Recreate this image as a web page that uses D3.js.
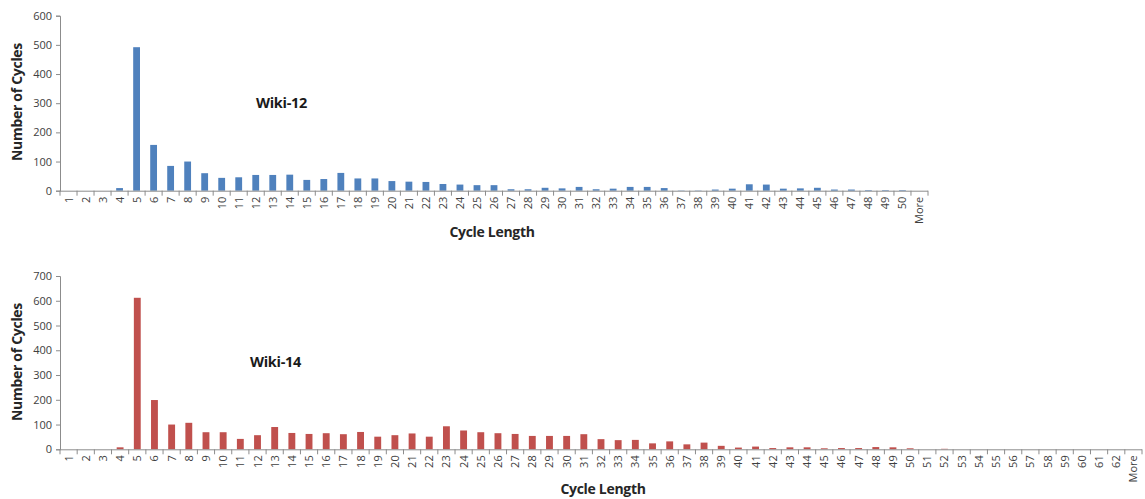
<!DOCTYPE html>
<html>
<head>
<meta charset="utf-8">
<script src="https://cdn.jsdelivr.net/npm/d3@7"></script>
<style>
  body { margin: 0; background: #fff; }
  svg text { font-family: "Open Sans", "DejaVu Sans", sans-serif; }
</style>
</head>
<body>
<div id="chart"></div>
<script>
// cycle length categories
const wiki12Lengths = d3.range(1, 51).map(String).concat(["More"]);
const wiki14Lengths = d3.range(1, 63).map(String).concat(["More"]);

// number of cycles per length
const wiki12Counts = [0, 0, 0, 9, 492, 157, 85, 100, 60, 44, 46, 54, 54, 55, 37, 40,
  61, 42, 42, 33, 31, 30, 23, 21, 19, 19, 5, 5, 10, 8, 13, 5, 7, 13, 13, 9, 1, 1,
  4, 7, 22, 21, 7, 8, 10, 4, 4, 2, 2, 2, 0];
const wiki14Counts = [0, 0, 0, 8, 612, 199, 100, 107, 69, 69, 42, 57, 90, 66, 62, 65,
  61, 70, 51, 57, 64, 51, 93, 76, 69, 65, 62, 54, 54, 54, 61, 41, 37, 38, 24, 32,
  20, 27, 14, 7, 11, 5, 8, 8, 4, 5, 5, 9, 8, 4, 0, 2, 0, 0, 0, 0, 0, 0, 0, 0, 0, 0, 0];

const wiki12Ticks = [0, 100, 200, 300, 400, 500, 600];
const wiki14Ticks = [0, 100, 200, 300, 400, 500, 600, 700];

const svg = d3.select("#chart").append("svg")
  .attr("width", 1145)
  .attr("height", 499);

function drawHistogram(opts) {
  const g = svg.append("g");

  const x = d3.scaleBand()
    .domain(opts.categories)
    .range([60, opts.right])
    .paddingInner(0.6)
    .paddingOuter(0.3);

  const y = d3.scaleLinear()
    .domain([0, d3.max(opts.ticks)])
    .range([opts.bottom, opts.top]);

  // bars
  g.selectAll("rect")
    .data(opts.counts.map((v, i) => ({ cat: opts.categories[i], v })))
    .enter().append("rect")
    .attr("x", d => x(d.cat))
    .attr("y", d => y(d.v))
    .attr("width", x.bandwidth())
    .attr("height", d => opts.bottom - y(d.v))
    .attr("fill", opts.color);

  // y axis
  const yAxis = g.append("g")
    .attr("transform", "translate(60,0)")
    .call(d3.axisLeft(y).tickValues(opts.ticks).tickSize(4).tickPadding(4));
  yAxis.selectAll("text").attr("font-size", 11).attr("fill", "#404040")
    .style("font-family", "'Open Sans', sans-serif");
  yAxis.selectAll("line, path").attr("stroke", "#8c8c8c");

  // x axis: ticks between categories
  const step = x.step();
  const bounds = d3.range(opts.categories.length + 1)
    .map(i => 60 + i * (opts.right - 60) / opts.categories.length);
  g.append("line")
    .attr("x1", 60).attr("x2", opts.right)
    .attr("y1", opts.bottom + 0.5).attr("y2", opts.bottom + 0.5)
    .attr("stroke", "#8c8c8c");
  g.selectAll(".xtick")
    .data(bounds)
    .enter().append("line")
    .attr("x1", d => d).attr("x2", d => d)
    .attr("y1", opts.bottom).attr("y2", opts.bottom + 5)
    .attr("stroke", "#8c8c8c");

  g.selectAll(".xlabel")
    .data(opts.categories)
    .enter().append("text")
    .attr("transform", d => `translate(${x(d) + x.bandwidth() / 2 + 4},${opts.bottom + 6}) rotate(-90)`)
    .attr("text-anchor", "end")
    .attr("font-size", 11)
    .attr("fill", "#404040")
    .text(d => d);

  // titles
  g.append("text")
    .attr("transform", `translate(22,${opts.yTitleY}) rotate(-90)`)
    .attr("text-anchor", "middle")
    .attr("font-size", 14)
    .attr("font-weight", "bold")
    .attr("letter-spacing", -0.3)
    .attr("fill", "#262626")
    .text("Number of Cycles");

  g.append("text")
    .attr("x", opts.xTitleX)
    .attr("y", opts.xTitleY)
    .attr("text-anchor", "middle")
    .attr("font-size", 14)
    .attr("font-weight", "bold")
    .attr("letter-spacing", -0.3)
    .attr("fill", "#262626")
    .text("Cycle Length");

  g.append("text")
    .attr("x", opts.labelX)
    .attr("y", opts.labelY)
    .attr("font-size", 14.5)
    .attr("font-weight", "bold")
    .attr("letter-spacing", -0.3)
    .attr("fill", "#1a1a1a")
    .text(opts.label);
}

drawHistogram({
  categories: wiki12Lengths, counts: wiki12Counts, ticks: wiki12Ticks,
  color: "#4f81bd", right: 928, top: 15.7, bottom: 190.7,
  yTitleY: 102, xTitleX: 492, xTitleY: 237,
  label: "Wiki-12", labelX: 256, labelY: 108
});

drawHistogram({
  categories: wiki14Lengths, counts: wiki14Counts, ticks: wiki14Ticks,
  color: "#c0504d", right: 1142, top: 276, bottom: 449.3,
  yTitleY: 362, xTitleX: 603, xTitleY: 494,
  label: "Wiki-14", labelX: 250, labelY: 367
});
</script>
</body>
</html>
